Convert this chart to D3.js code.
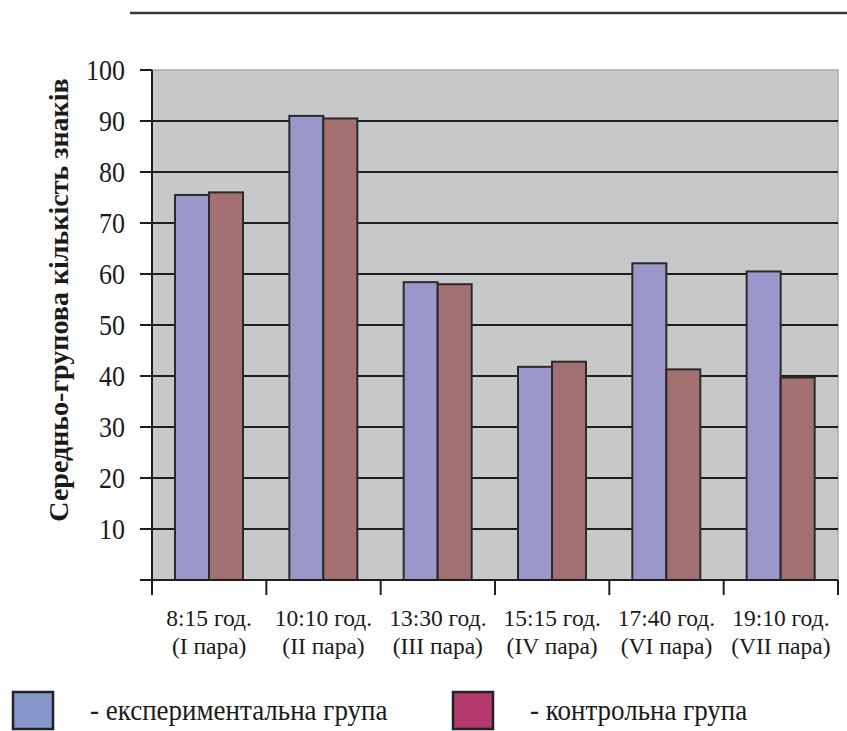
<!DOCTYPE html>
<html>
  <head>
    <meta charset="utf-8" />
    <title>Середньо-групова кількість знаків</title>
    <script src="https://cdn.jsdelivr.net/npm/d3@7"></script>
    <style>
      body { margin: 0; background: #fff; }
    </style>
  </head>
  <body>
    <svg id="svg" width="847" height="731" xmlns="http://www.w3.org/2000/svg"
      font-family="'Liberation Serif', 'DejaVu Serif', serif"></svg>
    <script>
      // Data
      let timeLabels = ["8:15 год.", "10:10 год.", "13:30 год.", "15:15 год.", "17:40 год.", "19:10 год."];
      let pairLabels = ["(I пара)", "(II пара)", "(III пара)", "(IV пара)", "(VI пара)", "(VII пара)"];
      let experimental = [75.5, 91.0, 58.4, 41.8, 62.1, 60.5];
      let control = [76.0, 90.5, 58.0, 42.8, 41.3, 39.7];
      let seriesNames = ["- експериментальна група", "- контрольна група"];
      let yTicks = [10, 20, 30, 40, 50, 60, 70, 80, 90, 100];

      let svg = d3.select("svg");

      let plotLeft = 152, plotRight = 838, plotTop = 70, plotBottom = 580;

      let x0 = d3.scaleBand().domain(d3.range(timeLabels.length)).range([plotLeft, plotRight]);
      let x1 = d3.scaleBand().domain([0, 1]).range([23, 91]);
      let y = d3.scaleLinear().domain([0, 100]).range([plotBottom, plotTop]);

      // Top rule
      svg.append("line")
        .attr("x1", 130).attr("x2", 847).attr("y1", 13).attr("y2", 13)
        .attr("stroke", "#3a3a3a").attr("stroke-width", 2.5);

      // Plot background
      svg.append("rect")
        .attr("x", plotLeft).attr("y", plotTop)
        .attr("width", plotRight - plotLeft).attr("height", plotBottom - plotTop)
        .attr("fill", "#c7c8ca")
        .attr("stroke", "#a9aaac").attr("stroke-width", 1.5);

      // Grid lines with ticks
      let g = svg.append("g");
      g.selectAll(".grid").data(yTicks.filter((d) => d < 100))
        .enter().append("line")
        .attr("class", "grid")
        .attr("x1", plotLeft - 12).attr("x2", plotRight)
        .attr("y1", (d) => y(d)).attr("y2", (d) => y(d))
        .attr("stroke", "#1e1e1e").attr("stroke-width", 2);

      // Tick at 100
      g.append("line")
        .attr("x1", plotLeft - 12).attr("x2", plotLeft)
        .attr("y1", y(100)).attr("y2", y(100))
        .attr("stroke", "#1e1e1e").attr("stroke-width", 2);

      // Y tick labels (slightly tall glyphs as in the original)
      g.selectAll(".ylab").data(yTicks)
        .enter().append("text")
        .attr("class", "ylab")
        .attr("transform", (d) => "translate(125," + (y(d) + 10) + ") scale(1,1.12)")
        .attr("text-anchor", "end")
        .attr("font-size", 26)
        .attr("fill", "#1a1a1a")
        .text((d) => d);

      // Bars
      let groups = svg.selectAll(".grp").data(timeLabels)
        .enter().append("g")
        .attr("class", "grp")
        .attr("transform", (d, i) => "translate(" + x0(i) + ",0)");

      groups.append("rect")
        .attr("x", x1(0)).attr("width", x1.bandwidth())
        .attr("y", (d, i) => y(experimental[i]))
        .attr("height", (d, i) => plotBottom - y(experimental[i]))
        .attr("fill", "#9c97ca").attr("stroke", "#2a2a2a").attr("stroke-width", 2);

      groups.append("rect")
        .attr("x", x1(1)).attr("width", x1.bandwidth())
        .attr("y", (d, i) => y(control[i]))
        .attr("height", (d, i) => plotBottom - y(control[i]))
        .attr("fill", "#a37072").attr("stroke", "#2a2a2a").attr("stroke-width", 2);

      // Axes lines
      svg.append("line")
        .attr("x1", plotLeft).attr("x2", plotLeft).attr("y1", plotTop).attr("y2", plotBottom + 15)
        .attr("stroke", "#1e1e1e").attr("stroke-width", 2);
      svg.append("line")
        .attr("x1", plotLeft - 12).attr("x2", plotRight).attr("y1", plotBottom).attr("y2", plotBottom)
        .attr("stroke", "#1e1e1e").attr("stroke-width", 2);

      // Category ticks
      svg.selectAll(".xt").data(d3.range(1, timeLabels.length + 1))
        .enter().append("line")
        .attr("class", "xt")
        .attr("x1", (d) => plotLeft + d * x0.bandwidth()).attr("x2", (d) => plotLeft + d * x0.bandwidth())
        .attr("y1", plotBottom).attr("y2", plotBottom + 15)
        .attr("stroke", "#1e1e1e").attr("stroke-width", 2);

      // Category labels
      let xl = svg.selectAll(".xl").data(timeLabels)
        .enter().append("text")
        .attr("class", "xl")
        .attr("text-anchor", "middle")
        .attr("font-size", 23.5)
        .attr("fill", "#1a1a1a");
      xl.append("tspan")
        .attr("x", (d, i) => x0(i) + x0.bandwidth() / 2)
        .attr("y", 626)
        .text((d) => d);
      xl.append("tspan")
        .attr("x", (d, i) => x0(i) + x0.bandwidth() / 2)
        .attr("y", 654)
        .text((d, i) => pairLabels[i]);

      // Y axis title
      svg.append("text")
        .attr("transform", "translate(68,300) rotate(-90)")
        .attr("text-anchor", "middle")
        .attr("font-size", 28)
        .attr("font-weight", "bold")
        .attr("fill", "#1a1a1a")
        .text("Середньо-групова кількість знаків");

      // Legend
      let legendColors = ["#8597cb", "#b43a6e"];
      let legendX = [13, 453];
      let lg = svg.selectAll(".lg").data(seriesNames)
        .enter().append("g")
        .attr("class", "lg")
        .attr("transform", (d, i) => "translate(" + legendX[i] + ",692)");
      lg.append("rect")
        .attr("width", 40).attr("height", 37)
        .attr("fill", (d, i) => legendColors[i])
        .attr("stroke", "#222").attr("stroke-width", 2.5);
      lg.append("text")
        .attr("transform", (d, i) => "translate(" + [77, 77][i] + ",28) scale(1,1.1)")
        .attr("font-size", 27)
        .attr("fill", "#1a1a1a")
        .text((d) => d);
    </script>
  </body>
</html>
